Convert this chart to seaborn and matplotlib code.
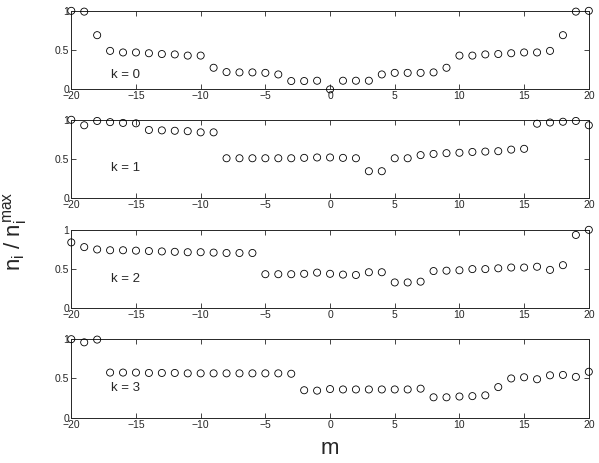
import numpy as np
import pandas as pd
import seaborn as sns
import matplotlib.pyplot as plt

# mode index m = -20 ... 20
m = list(range(-20, 21))

# normalized occupation n_i / n_i^max for each k
k0 = [1.0, 0.99, 0.69, 0.49, 0.47, 0.47, 0.46, 0.45, 0.445, 0.43, 0.43,
      0.275, 0.22, 0.216, 0.216, 0.21, 0.19, 0.106, 0.106, 0.11, 0.0,
      0.11, 0.11, 0.11, 0.19, 0.21, 0.21, 0.21, 0.216, 0.275, 0.43,
      0.43, 0.445, 0.45, 0.46, 0.47, 0.47, 0.49, 0.69, 0.99, 1.0]
k1 = [1.0, 0.93, 0.985, 0.97, 0.96, 0.955, 0.87, 0.865, 0.86, 0.855, 0.84,
      0.84, 0.51, 0.51, 0.51, 0.51, 0.51, 0.51, 0.515, 0.52, 0.52,
      0.515, 0.51, 0.345, 0.345, 0.51, 0.51, 0.55, 0.565, 0.575, 0.58,
      0.59, 0.595, 0.60, 0.62, 0.63, 0.95, 0.965, 0.975, 0.985, 0.93]
k2 = [0.84, 0.78, 0.75, 0.74, 0.74, 0.735, 0.73, 0.725, 0.72, 0.715, 0.715,
      0.71, 0.705, 0.705, 0.705, 0.435, 0.435, 0.435, 0.44, 0.455, 0.44,
      0.43, 0.425, 0.46, 0.46, 0.33, 0.33, 0.34, 0.475, 0.48, 0.485,
      0.50, 0.50, 0.51, 0.52, 0.52, 0.53, 0.49, 0.55, 0.935, 1.0]
k3 = [1.0, 0.96, 0.995, 0.575, 0.575, 0.575, 0.57, 0.57, 0.57, 0.565, 0.565,
      0.565, 0.565, 0.565, 0.565, 0.565, 0.565, 0.56, 0.35, 0.345, 0.365,
      0.36, 0.36, 0.36, 0.36, 0.36, 0.36, 0.37, 0.26, 0.26, 0.27,
      0.275, 0.285, 0.39, 0.50, 0.515, 0.49, 0.54, 0.545, 0.52, 0.585]

series = [k0, k1, k2, k3]
labels = ['k = 0', 'k = 1', 'k = 2', 'k = 3']
label_y = [0.18, 0.38, 0.38, 0.38]

sns.set_style('ticks')
plt.rcParams['font.family'] = ['Liberation Sans', 'DejaVu Sans']
plt.rcParams['mathtext.fontset'] = 'custom'
plt.rcParams['mathtext.rm'] = 'Liberation Sans'
plt.rcParams['mathtext.it'] = 'Liberation Sans'

fig = plt.figure(figsize=(5.99, 4.63), dpi=100)
bottoms = [0.807, 0.5717, 0.334, 0.0978]

for i, vals in enumerate(series):
    ax = fig.add_axes([0.119, bottoms[i], 0.864, 0.1696])
    df = pd.DataFrame({'m': m, 'n': vals})
    sns.scatterplot(data=df, x='m', y='n', ax=ax, marker='o', s=26,
                    facecolors='none', edgecolors='black', linewidths=0.6,
                    clip_on=False, zorder=3)
    ax.set_xlim(-20, 20)
    ax.set_ylim(0, 1)
    ax.set_xticks(range(-20, 21, 5))
    ax.set_yticks([0, 0.5, 1])
    ax.set_yticklabels(['0', '0.5', '1'])
    ax.tick_params(direction='in', top=True, right=True, length=3.5,
                   width=0.6, labelsize=7.5, pad=1.5)
    for sp in ax.spines.values():
        sp.set_linewidth(0.7)
        sp.set_visible(True)
    ax.set_xlabel('')
    ax.set_ylabel('')
    ax.text(-16.9, label_y[i], labels[i], fontsize=9.5, va='center', ha='left')

fig.text(0.025, 0.5, r'$n_i\ /\ n_i^{max}$', rotation=90, fontsize=16,
         va='center', ha='center')
fig.text(0.551, 0.032, 'm', fontsize=16, ha='center', va='center')

fig.savefig('out.png', dpi=100)
